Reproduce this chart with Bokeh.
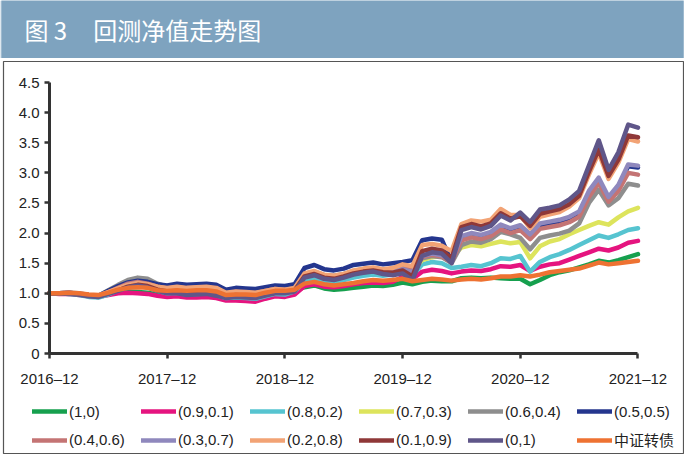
from bokeh.plotting import figure
from bokeh.models import Range1d, FixedTicker, Legend, LegendItem, Label, PrintfTickFormatter, LinearAxis
from bokeh.layouts import column
from bokeh.embed import file_html
from bokeh.resources import INLINE

# ---------------- data ----------------
months = list(range(61))  # 0 = 2016-12 ... 60 = 2021-12
x_tick_pos = [0, 12, 24, 36, 48, 60]
x_tick_labels = ["2016–12", "2017–12", "2018–12", "2019–12", "2020–12", "2021–12"]
y_ticks = [0, 0.5, 1.0, 1.5, 2.0, 2.5, 3.0, 3.5, 4.0, 4.5]
y_tick_labels = ["0", "0.5", "1.0", "1.5", "2.0", "2.5", "3.0", "3.5", "4.0", "4.5"]

series_names = ["(1,0)", "(0.9,0.1)", "(0.8,0.2)", "(0.7,0.3)", "(0.6,0.4)", "(0.5,0.5)",
                "(0.4,0.6)", "(0.3,0.7)", "(0.2,0.8)", "(0.1,0.9)", "(0,1)", "中证转债"]
series_colors = ["#16a04e", "#e5147f", "#56c4d0", "#dde45c", "#8e8e8e", "#24368e",
                 "#c47474", "#8f88bd", "#f2a375", "#8f3838", "#5f5689", "#ee7232"]

s_10 = [1.00, 1.00, 1.00, 0.98, 0.96, 0.95, 0.99, 1.02, 1.03, 1.02, 1.01, 0.98, 0.96, 0.97, 0.95, 0.96, 0.97, 0.94, 0.91, 0.92, 0.91, 0.90, 0.95, 0.99, 0.98,
        1.04, 1.10, 1.13, 1.08, 1.06, 1.07, 1.09, 1.11, 1.13, 1.12, 1.14,
        1.18, 1.15, 1.19, 1.21, 1.20, 1.20, 1.25, 1.26, 1.25, 1.26, 1.25, 1.24, 1.24, 1.15, 1.22, 1.30, 1.35, 1.38, 1.43, 1.48, 1.54, 1.51, 1.55, 1.60, 1.65]
s_91 = [1.00, 0.99, 0.99, 0.97, 0.95, 0.94, 0.97, 1.00, 1.01, 1.00, 0.99, 0.96, 0.94, 0.95, 0.93, 0.93, 0.94, 0.92, 0.88, 0.88, 0.87, 0.86, 0.91, 0.95, 0.94,
        0.98, 1.12, 1.15, 1.11, 1.10, 1.12, 1.15, 1.17, 1.18, 1.17, 1.19,
        1.27, 1.24, 1.36, 1.39, 1.37, 1.33, 1.36, 1.38, 1.37, 1.40, 1.45, 1.44, 1.47, 1.37, 1.44, 1.48, 1.50, 1.56, 1.62, 1.68, 1.74, 1.71, 1.76, 1.84, 1.87]
s_82 = [1.00, 1.00, 0.99, 0.97, 0.94, 0.93, 0.98, 1.05, 1.10, 1.12, 1.10, 1.04, 1.00, 1.01, 0.98, 0.99, 1.00, 0.97, 0.92, 0.93, 0.92, 0.91, 0.95, 0.99, 0.98,
        1.03, 1.20, 1.24, 1.20, 1.19, 1.22, 1.26, 1.29, 1.31, 1.29, 1.31,
        1.38, 1.30, 1.48, 1.52, 1.50, 1.42, 1.44, 1.47, 1.45, 1.50, 1.58, 1.57, 1.62, 1.36, 1.52, 1.60, 1.65, 1.72, 1.80, 1.88, 1.96, 1.92, 1.98, 2.05, 2.08]
s_73 = [1.00, 1.00, 1.00, 0.99, 0.96, 0.95, 1.04, 1.12, 1.19, 1.22, 1.20, 1.12, 1.07, 1.08, 1.06, 1.07, 1.08, 1.05, 0.98, 1.00, 0.99, 0.98, 1.02, 1.05, 1.04,
        1.07, 1.28, 1.32, 1.27, 1.26, 1.29, 1.33, 1.36, 1.38, 1.35, 1.37,
        1.45, 1.38, 1.55, 1.60, 1.62, 1.60, 1.76, 1.80, 1.78, 1.82, 1.86, 1.83, 1.85, 1.58, 1.78, 1.86, 1.90, 1.98, 2.05, 2.12, 2.18, 2.14, 2.26, 2.36, 2.42]
s_64 = [1.00, 1.00, 1.01, 1.00, 0.97, 0.96, 1.05, 1.14, 1.22, 1.26, 1.24, 1.16, 1.11, 1.12, 1.10, 1.11, 1.12, 1.09, 1.02, 1.04, 1.03, 1.02, 1.05, 1.08, 1.07,
        1.10, 1.32, 1.36, 1.30, 1.29, 1.32, 1.37, 1.40, 1.42, 1.39, 1.40,
        1.45, 1.40, 1.58, 1.62, 1.60, 1.50, 1.80, 1.86, 1.84, 1.90, 2.02, 1.98, 1.92, 1.73, 1.92, 1.96, 1.99, 2.04, 2.16, 2.50, 2.72, 2.46, 2.58, 2.82, 2.79]
s_55 = [1.00, 1.00, 1.01, 0.99, 0.97, 0.96, 1.04, 1.12, 1.18, 1.21, 1.19, 1.15, 1.13, 1.16, 1.14, 1.15, 1.16, 1.14, 1.06, 1.09, 1.08, 1.07, 1.10, 1.13, 1.12,
        1.15, 1.42, 1.47, 1.40, 1.38, 1.41, 1.47, 1.49, 1.51, 1.48, 1.50,
        1.52, 1.55, 1.88, 1.91, 1.89, 1.52, 1.92, 1.97, 1.94, 1.99, 2.11, 2.05, 2.10, 1.95, 2.13, 2.16, 2.19, 2.24, 2.33, 2.67, 2.89, 2.57, 2.77, 3.11, 3.09]
s_46 = [1.00, 1.00, 1.01, 0.99, 0.97, 0.96, 1.02, 1.09, 1.16, 1.19, 1.16, 1.11, 1.08, 1.10, 1.08, 1.09, 1.10, 1.07, 1.00, 1.02, 1.01, 1.00, 1.04, 1.07, 1.06,
        1.08, 1.30, 1.34, 1.28, 1.27, 1.30, 1.35, 1.38, 1.40, 1.37, 1.38,
        1.42, 1.38, 1.60, 1.64, 1.61, 1.52, 1.88, 1.93, 1.90, 1.95, 2.06, 2.00, 2.05, 1.90, 2.07, 2.10, 2.13, 2.18, 2.27, 2.60, 2.84, 2.52, 2.70, 3.00, 2.97]
s_37 = [1.00, 1.00, 1.00, 0.99, 0.96, 0.95, 1.01, 1.07, 1.14, 1.17, 1.14, 1.08, 1.05, 1.07, 1.04, 1.05, 1.06, 1.03, 0.97, 0.99, 0.98, 0.97, 1.01, 1.04, 1.03,
        1.06, 1.28, 1.32, 1.26, 1.25, 1.28, 1.32, 1.35, 1.37, 1.34, 1.35,
        1.40, 1.35, 1.62, 1.66, 1.63, 1.55, 1.95, 2.00, 1.97, 2.02, 2.14, 2.08, 2.13, 1.98, 2.16, 2.19, 2.22, 2.27, 2.36, 2.70, 2.92, 2.60, 2.80, 3.14, 3.12]
s_28 = [1.00, 1.00, 1.00, 0.99, 0.97, 0.96, 1.02, 1.08, 1.14, 1.17, 1.15, 1.11, 1.09, 1.11, 1.09, 1.10, 1.11, 1.09, 1.01, 1.03, 1.02, 1.01, 1.04, 1.07, 1.06,
        1.09, 1.33, 1.37, 1.31, 1.29, 1.32, 1.38, 1.41, 1.43, 1.40, 1.42,
        1.48, 1.45, 1.80, 1.82, 1.79, 1.70, 2.15, 2.21, 2.19, 2.22, 2.40, 2.30, 2.30, 2.08, 2.27, 2.31, 2.35, 2.44, 2.58, 2.97, 3.33, 2.90, 3.17, 3.56, 3.52]
s_19 = [1.00, 1.00, 1.00, 0.98, 0.96, 0.95, 1.00, 1.05, 1.11, 1.14, 1.12, 1.06, 1.03, 1.04, 1.01, 1.02, 1.03, 1.00, 0.95, 0.97, 0.96, 0.95, 0.99, 1.02, 1.02,
        1.05, 1.28, 1.32, 1.26, 1.24, 1.28, 1.33, 1.36, 1.38, 1.35, 1.34,
        1.38, 1.28, 1.70, 1.74, 1.71, 1.58, 2.10, 2.15, 2.11, 2.16, 2.33, 2.24, 2.28, 2.12, 2.32, 2.36, 2.40, 2.48, 2.62, 3.02, 3.39, 2.95, 3.22, 3.62, 3.59]
s_01 = [1.00, 1.00, 0.99, 0.98, 0.95, 0.94, 0.99, 1.04, 1.10, 1.13, 1.10, 1.04, 1.00, 1.00, 0.97, 0.98, 0.99, 0.96, 0.92, 0.94, 0.93, 0.92, 0.96, 1.00, 1.00,
        1.03, 1.26, 1.30, 1.24, 1.22, 1.26, 1.31, 1.34, 1.36, 1.32, 1.30,
        1.33, 1.22, 1.62, 1.68, 1.66, 1.50, 2.05, 2.10, 2.06, 2.12, 2.29, 2.21, 2.34, 2.18, 2.39, 2.42, 2.46, 2.56, 2.70, 3.12, 3.54, 3.05, 3.34, 3.80, 3.75]
s_cb = [1.00, 1.00, 1.01, 1.00, 0.98, 0.97, 1.01, 1.06, 1.09, 1.10, 1.09, 1.05, 1.04, 1.05, 1.04, 1.05, 1.05, 1.03, 0.97, 0.98, 0.98, 0.97, 1.01, 1.04, 1.04,
        1.06, 1.16, 1.19, 1.15, 1.13, 1.15, 1.17, 1.20, 1.22, 1.21, 1.22,
        1.24, 1.20, 1.22, 1.24, 1.23, 1.21, 1.23, 1.24, 1.23, 1.25, 1.28, 1.28, 1.30, 1.28, 1.31, 1.35, 1.37, 1.39, 1.41, 1.46, 1.51, 1.48, 1.50, 1.52, 1.54]

series_values = [s_10, s_91, s_82, s_73, s_64, s_55, s_46, s_37, s_28, s_19, s_01, s_cb]

# ---------------- layout constants (pixels) ----------------
FONT = "'Liberation Sans', 'Noto Sans CJK SC', sans-serif"
BAR = "#7ea3bf"
W, H = 682, 394
FRAME_W, FRAME_H = W - 2, H - 2
X0_PX, X_PER = 46.0, 9.808      # month 0 position in frame, px per month
Y0_PX, Y_PER = 100.0, 60.22     # value 0 above frame bottom, px per unit

x_start = -X0_PX / X_PER
x_end = (FRAME_W - X0_PX) / X_PER
y_start = -Y0_PX / Y_PER
y_end = (FRAME_H - Y0_PX) / Y_PER

# ---------------- title bar ----------------
bar = figure(width=684, height=58, x_range=Range1d(0, 684), y_range=Range1d(0, 58),
             toolbar_location=None, output_backend="svg", min_border=0,
             x_axis_location=None, y_axis_location=None,
             background_fill_color=BAR, border_fill_color=BAR, outline_line_color=None)
bar.grid.visible = False
bar.add_layout(Label(x=23, y=29, text="图 3", text_color="white", text_font_size="24px",
                     text_font="'Noto Sans CJK SC', sans-serif", text_baseline="middle"))
bar.add_layout(Label(x=92, y=29, text="回测净值走势图", text_color="white", text_font_size="24px",
                     text_font="'Noto Sans CJK SC', sans-serif", text_baseline="middle"))

# ---------------- main chart ----------------
p = figure(width=W, height=H, x_range=Range1d(x_start, x_end), y_range=Range1d(y_start, y_end),
           toolbar_location=None, output_backend="svg", min_border=1,
           x_axis_location=None, y_axis_location=None,
           background_fill_color="white", border_fill_color="white",
           outline_line_color="#555555", outline_line_width=1.2, margin=(2, 0, 0, 2))
p.grid.visible = False

renderers = []
for vals, col in zip(series_values, series_colors):
    assert len(vals) == len(months), len(vals)
    r = p.line(months, vals, line_color=col, line_width=4.5, line_join="round", line_cap="round")
    renderers.append(r)

def style_axis(ax, standoff):
    ax.axis_line_color = "#333333"
    ax.axis_line_width = 3
    ax.major_tick_line_color = "#333333"
    ax.major_tick_line_width = 2.5
    ax.major_tick_out = 5
    ax.major_tick_in = 0
    ax.minor_tick_line_color = None
    ax.major_label_text_font = FONT
    ax.major_label_text_font_size = "15px"
    ax.major_label_text_color = "#222222"
    ax.major_label_standoff = standoff

xaxis = LinearAxis(fixed_location=0, bounds=(0, 60), ticker=FixedTicker(ticks=x_tick_pos),
                   major_label_overrides=dict(zip(x_tick_pos, x_tick_labels)))
style_axis(xaxis, 11)
p.add_layout(xaxis, "below")

yaxis = LinearAxis(fixed_location=0, bounds=(0, 4.5), ticker=FixedTicker(ticks=y_ticks),
                   formatter=PrintfTickFormatter(format="%.1f"),
                   major_label_overrides={0: "0"})
style_axis(yaxis, 5)
p.add_layout(yaxis, "left")

def make_legend(idx, y):
    items = [LegendItem(label=series_names[i], renderers=[renderers[i]]) for i in idx]
    return Legend(items=items, orientation="horizontal", location=(29, y),
                  glyph_width=35, glyph_height=20, label_height=20, label_width=63,
                  label_standoff=2, spacing=9, padding=0, margin=0,
                  background_fill_alpha=0, border_line_color=None,
                  label_text_font=FONT, label_text_font_size="15px", label_text_color="#222222")

p.add_layout(make_legend(range(0, 6), 32))
p.add_layout(make_legend(range(6, 12), 3))

layout = column(bar, p, spacing=0)
open("out.html", "w").write(file_html(layout, INLINE))
